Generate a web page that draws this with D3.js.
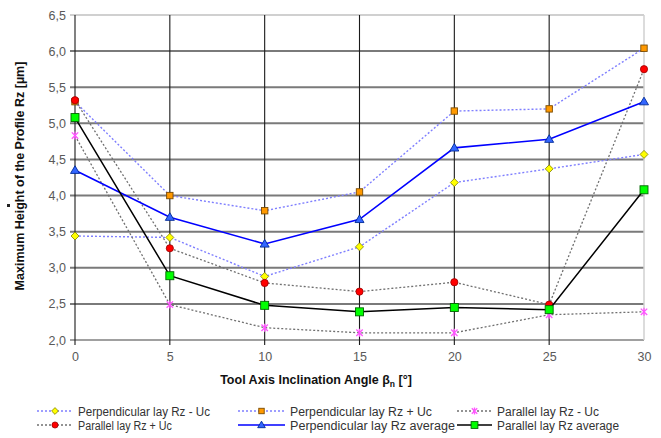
<!DOCTYPE html>
<html><head><meta charset="utf-8">
<script src="https://cdn.jsdelivr.net/npm/d3@7/dist/d3.min.js"></script>
<style>
html,body{margin:0;padding:0;background:#fff;}
svg{display:block;font-family:"Liberation Sans",Arial,sans-serif;}
</style></head>
<body>
<svg id="chart" width="661" height="438"></svg>
<script>
const angles = [0, 5, 10, 15, 20, 25, 30];
const xTickLabels = ["0", "5", "10", "15", "20", "25", "30"];
const yTickValues = [2.0, 2.5, 3.0, 3.5, 4.0, 4.5, 5.0, 5.5, 6.0, 6.5];
const yTickLabels = ["2,0", "2,5", "3,0", "3,5", "4,0", "4,5", "5,0", "5,5", "6,0", "6,5"];

const seriesNames = [
  "Perpendicular lay Rz - Uc",
  "Perpendicular lay Rz + Uc",
  "Parallel lay Rz - Uc",
  "Parallel lay Rz + Uc",
  "Perpendicular lay Rz average",
  "Parallel lay Rz average"
];
const perpMinus = [3.44, 3.42, 2.88, 3.29, 4.18, 4.37, 4.57];
const perpPlus  = [5.30, 4.00, 3.79, 4.05, 5.17, 5.20, 6.04];
const parMinus  = [4.83, 2.49, 2.17, 2.10, 2.10, 2.35, 2.39];
const parPlus   = [5.32, 3.27, 2.79, 2.67, 2.80, 2.49, 5.75];
const perpAvg   = [4.35, 3.70, 3.33, 3.67, 4.66, 4.78, 5.30];
const parAvg    = [5.08, 2.89, 2.48, 2.39, 2.45, 2.42, 4.08];

const seriesValues = [perpMinus, perpPlus, parMinus, parPlus, perpAvg, parAvg];
const styles = [
  {line:"#7f7fff", dash:"2,2", w:1.4, marker:"diamond", fill:"#ffff00", stroke:"#808000", size:4},
  {line:"#7f7fff", dash:"2,2", w:1.4, marker:"square",  fill:"#ff9900", stroke:"#7a4a00", size:3.2},
  {line:"#707070", dash:"2,2", w:1.3, marker:"star",    fill:"none",    stroke:"#ff55ff", size:4},
  {line:"#707070", dash:"2,2", w:1.3, marker:"circle",  fill:"#ff0000", stroke:"#990000", size:3.6},
  {line:"#0000ff", dash:null,  w:1.6, marker:"triangle",fill:"#3366ff", stroke:"#002a99", size:4.5},
  {line:"#000000", dash:null,  w:1.5, marker:"square",  fill:"#00ff00", stroke:"#006600", size:4}
];
const legendLens = [132, 142, 102, 94, 165, 122];

const svg = d3.select("#chart");
const x = d3.scaleLinear().domain([0, 30]).range([75, 644]);
const y = d3.scaleLinear().domain([2, 6.5]).range([340, 15]);

// horizontal grid lines
const g = svg.append("g");
yTickValues.forEach((v, i) => {
  let col = "#7a7a7a";
  if (v === 6.5) col = "#d0d0d0";
  if (v === 2.0) col = "#a0a0a0";
  g.append("line").attr("x1", 70).attr("x2", x(30)).attr("y1", y(v)).attr("y2", y(v))
    .attr("stroke", col).attr("stroke-width", 2);
});
// vertical grid lines
angles.forEach(a => {
  const col = a === 30 ? "#d0d0d0" : "#1a1a1a";
  g.append("line").attr("x1", x(a)).attr("x2", x(a)).attr("y1", y(6.5)).attr("y2", a === 30 ? y(2) : y(2) + 5)
    .attr("stroke", col).attr("stroke-width", a === 30 ? 1.5 : 1.1);
});

// axes labels via d3 axes
const yAxis = d3.axisLeft(y).tickValues(yTickValues).tickSize(0).tickPadding(9)
  .tickFormat((d, i) => yTickLabels[i]);
svg.append("g").attr("transform", "translate(75,0)").call(yAxis)
  .call(s => s.select(".domain").remove())
  .selectAll("text").attr("font-size", 12.5).attr("fill", "#595959")
  .attr("font-family", "Liberation Sans, Arial, sans-serif");

const xAxis = d3.axisBottom(x).tickValues(angles).tickSize(0).tickPadding(12)
  .tickFormat((d, i) => xTickLabels[i]);
svg.append("g").attr("transform", "translate(0,340)").call(xAxis)
  .call(s => s.select(".domain").remove())
  .selectAll("text").attr("font-size", 12.5).attr("fill", "#595959")
  .attr("font-family", "Liberation Sans, Arial, sans-serif");

// axis titles
const xt = svg.append("text").attr("x", 316).attr("y", 384).attr("text-anchor", "middle")
  .attr("font-size", 12.5).attr("font-weight", "bold").attr("fill", "#111");
xt.append("tspan").text("Tool Axis Inclination Angle β");
xt.append("tspan").attr("font-size", 8.5).attr("dy", 3).text("n");
xt.append("tspan").attr("dy", -3).text(" [°]");

svg.append("text").attr("transform", "translate(24,176) rotate(-90)").attr("text-anchor", "middle")
  .attr("font-size", 12.5).attr("font-weight", "bold").attr("fill", "#111")
  .text("Maximum Height of the Profile Rz [µm]");
svg.append("rect").attr("x", 7).attr("y", 204).attr("width", 3).attr("height", 3).attr("fill", "#222");

// markers
function drawMarker(sel, st, cx, cy, sc) {
  const s = st.size * (sc || 1);
  if (st.marker === "circle") {
    sel.append("circle").attr("cx", cx).attr("cy", cy).attr("r", s)
      .attr("fill", st.fill).attr("stroke", st.stroke).attr("stroke-width", 0.8);
  } else if (st.marker === "square") {
    sel.append("rect").attr("x", cx - s).attr("y", cy - s).attr("width", 2 * s).attr("height", 2 * s)
      .attr("fill", st.fill).attr("stroke", st.stroke).attr("stroke-width", 0.9);
  } else if (st.marker === "diamond") {
    sel.append("path").attr("d", `M${cx},${cy - s}L${cx + s},${cy}L${cx},${cy + s}L${cx - s},${cy}Z`)
      .attr("fill", st.fill).attr("stroke", st.stroke).attr("stroke-width", 0.8);
  } else if (st.marker === "triangle") {
    sel.append("path").attr("d", `M${cx},${cy - s}L${cx + s},${cy + s * 0.7}L${cx - s},${cy + s * 0.7}Z`)
      .attr("fill", st.fill).attr("stroke", st.stroke).attr("stroke-width", 0.9);
  } else if (st.marker === "star") {
    const d = s * 0.8;
    sel.append("path").attr("d", `M${cx - d},${cy - d}L${cx + d},${cy + d}M${cx - d},${cy + d}L${cx + d},${cy - d}M${cx},${cy - s}L${cx},${cy + s}`)
      .attr("stroke", st.stroke).attr("stroke-width", 1.3).attr("fill", "none");
  }
}

const line = d3.line().x((d, i) => x(angles[i])).y(d => y(d));
seriesValues.forEach((vals, k) => {
  const st = styles[k];
  const sg = svg.append("g");
  const p = sg.append("path").datum(vals).attr("d", line).attr("fill", "none")
    .attr("stroke", st.line).attr("stroke-width", st.w);
  if (st.dash) p.attr("stroke-dasharray", st.dash);
  vals.forEach((v, i) => drawMarker(sg, st, x(angles[i]), y(v)));
});

// legend
const legX = [37, 238, 457];
const legY = [411, 425];
seriesNames.forEach((name, k) => {
  const col = k % 3, row = Math.floor(k / 3);
  const st = styles[k];
  const lx = legX[col], ly = legY[row];
  const lw = col === 0 ? 36 : (col === 1 ? 47 : 35);
  const lg = svg.append("g");
  const ln = lg.append("line").attr("x1", lx).attr("x2", lx + lw).attr("y1", ly).attr("y2", ly)
    .attr("stroke", st.line).attr("stroke-width", st.w);
  if (st.dash) ln.attr("stroke-dasharray", st.dash);
  drawMarker(lg, st, lx + lw / 2, ly, 0.85);
  lg.append("text").attr("x", lx + lw + 5).attr("y", ly + 4.5).attr("font-size", 12).attr("fill", "#333")
    .attr("textLength", legendLens[k]).attr("lengthAdjust", "spacingAndGlyphs").text(name);
});
</script>
</body></html>
